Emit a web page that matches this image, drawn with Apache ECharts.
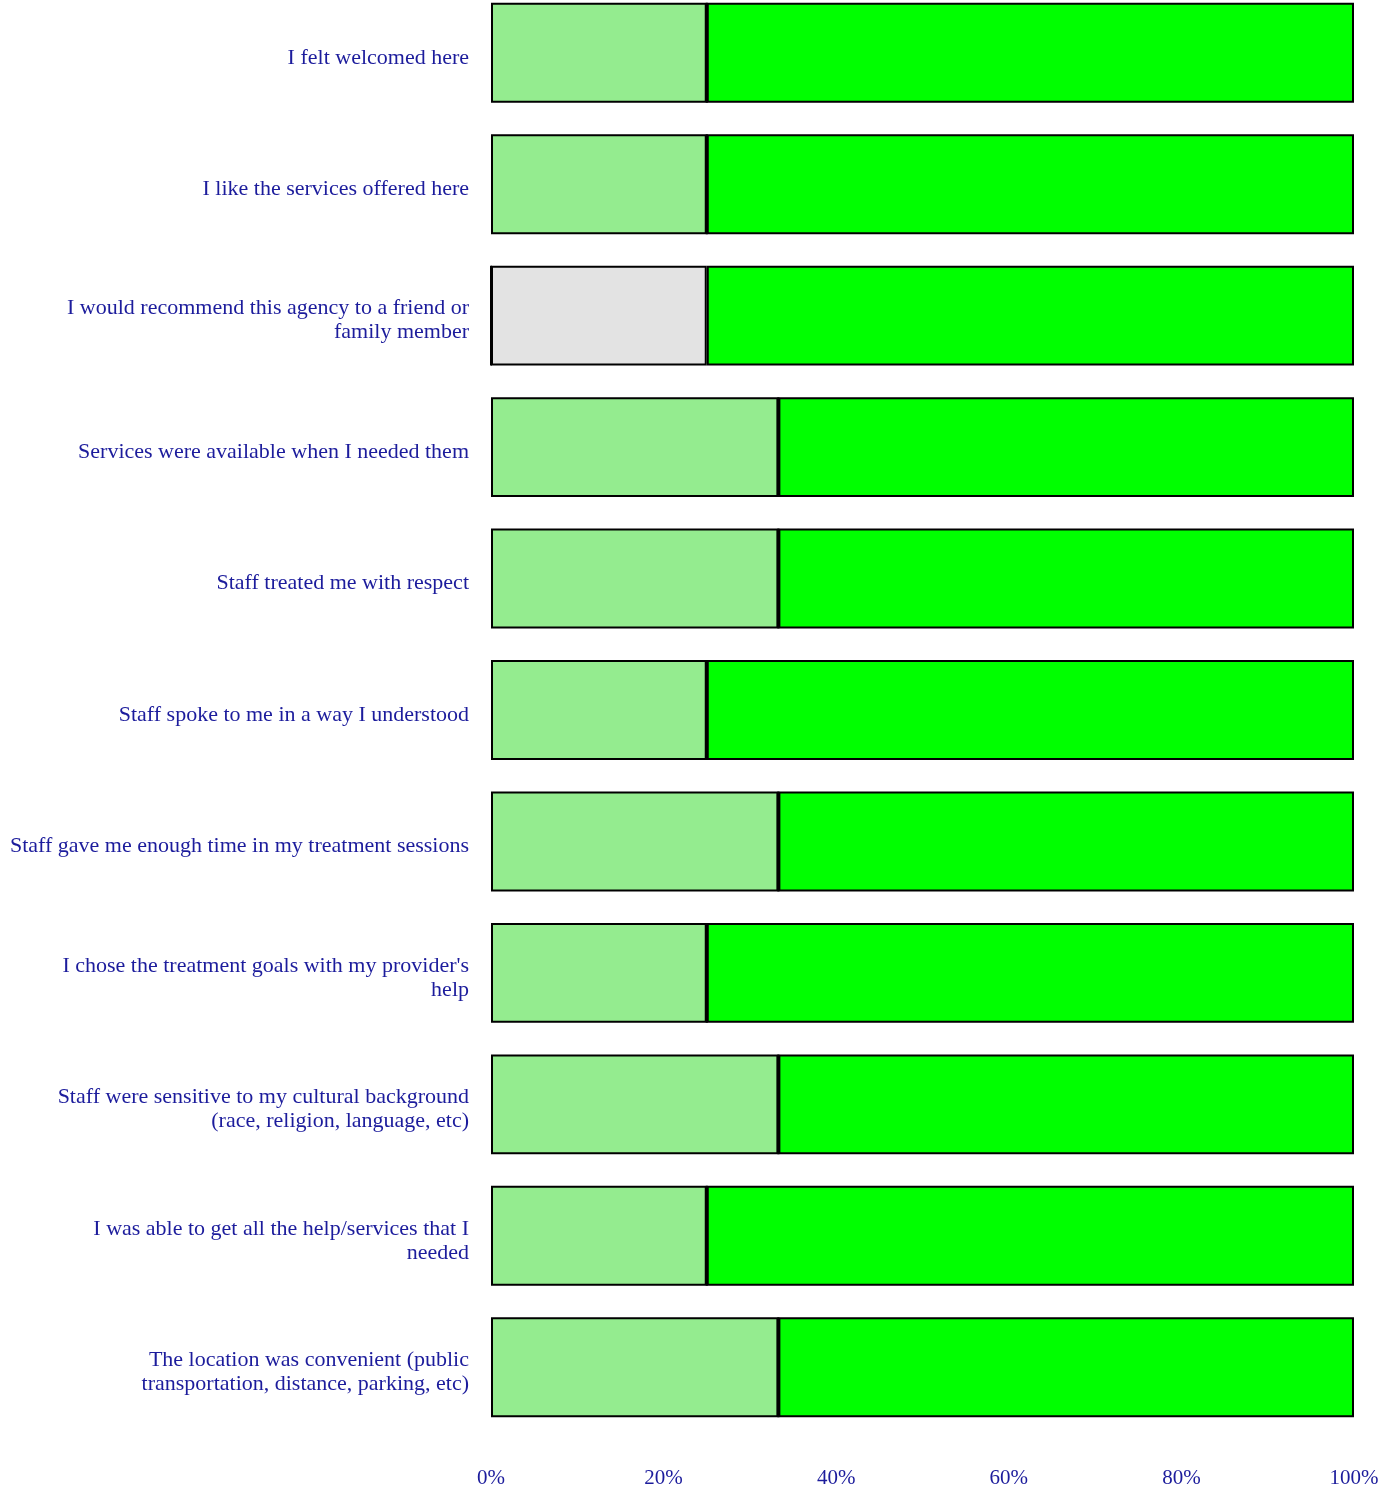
<!DOCTYPE html>
<html>
<head>
<meta charset="utf-8">
<script src="https://cdn.jsdelivr.net/npm/echarts@6/dist/echarts.min.js"></script>
<style>
html,body{margin:0;padding:0;background:#fff;overflow:hidden;}
#wrap{position:relative;width:1379px;height:1491px;overflow:hidden;}
#chart{position:absolute;left:0;top:-13px;width:1379px;height:1504px;}
</style>
</head>
<body>
<div id="wrap"><div id="chart"></div></div>
<script>
var categories = [
  "I felt welcomed here",
  "I like the services offered here",
  "I would recommend this agency to a friend or\nfamily member",
  "Services were available when I needed them",
  "Staff treated me with respect",
  "Staff spoke to me in a way I understood",
  "Staff gave me enough time in my treatment sessions",
  "I chose the treatment goals with my provider's\nhelp",
  "Staff were sensitive to my cultural background\n(race, religion, language, etc)",
  "I was able to get all the help/services that I\nneeded",
  "The location was convenient (public\ntransportation, distance, parking, etc)"
];
var agree         = [25, 25, 0, 33.3, 33.3, 25, 33.3, 25, 33.3, 25, 33.3];
var neutral       = [0, 0, 25, 0, 0, 0, 0, 0, 0, 0, 0];
var stronglyAgree = [75, 75, 75, 66.7, 66.7, 75, 66.7, 75, 66.7, 75, 66.7];
var xTicks = [0, 20, 40, 60, 80, 100];

var textColor = '#1c1c9c';
var fontFam = '"Liberation Serif", "DejaVu Serif", serif';

function mk(name, data, color) {
  return {
    name: name,
    type: 'bar',
    stack: 'total',
    barCategoryGap: '24%',
    data: data,
    itemStyle: { color: color, borderColor: '#000', borderWidth: 2 },
    emphasis: { disabled: true }
  };
}

var chart = echarts.init(document.getElementById('chart'));
chart.setOption({
  animation: false,
  backgroundColor: '#fff',
  grid: { left: 491, right: 25, top: 0, bottom: 58, containLabel: false, outerBoundsMode: 'none' },
  xAxis: {
    type: 'value', min: 0, max: 100, interval: 20,
    axisLine: { show: false }, axisTick: { show: false }, splitLine: { show: false },
    axisLabel: {
      color: textColor, fontFamily: fontFam, fontSize: 21, margin: 35,
      formatter: function (v) { return v + '%'; }
    }
  },
  yAxis: {
    type: 'category', data: categories, inverse: true,
    axisLine: { show: false }, axisTick: { show: false }, splitLine: { show: false },
    axisLabel: {
      color: textColor, fontFamily: fontFam, fontSize: 22, margin: 22,
      align: 'right', lineHeight: 24,
      formatter: function (v) {
        return '{s| }\n' + v.split('\n').map(function (l) { return '{n|' + l + '}'; }).join('\n');
      },
      rich: {
        s: { fontSize: 2, lineHeight: 10, align: 'right' },
        n: { color: textColor, fontFamily: fontFam, fontSize: 22, lineHeight: 24, align: 'right' }
      }
    }
  },
  series: [
    mk('Agree', agree, '#94ec8f'),
    mk('Neutral', neutral, '#e3e3e3'),
    mk('Strongly Agree', stronglyAgree, '#00ff00')
  ]
});
</script>
</body>
</html>
